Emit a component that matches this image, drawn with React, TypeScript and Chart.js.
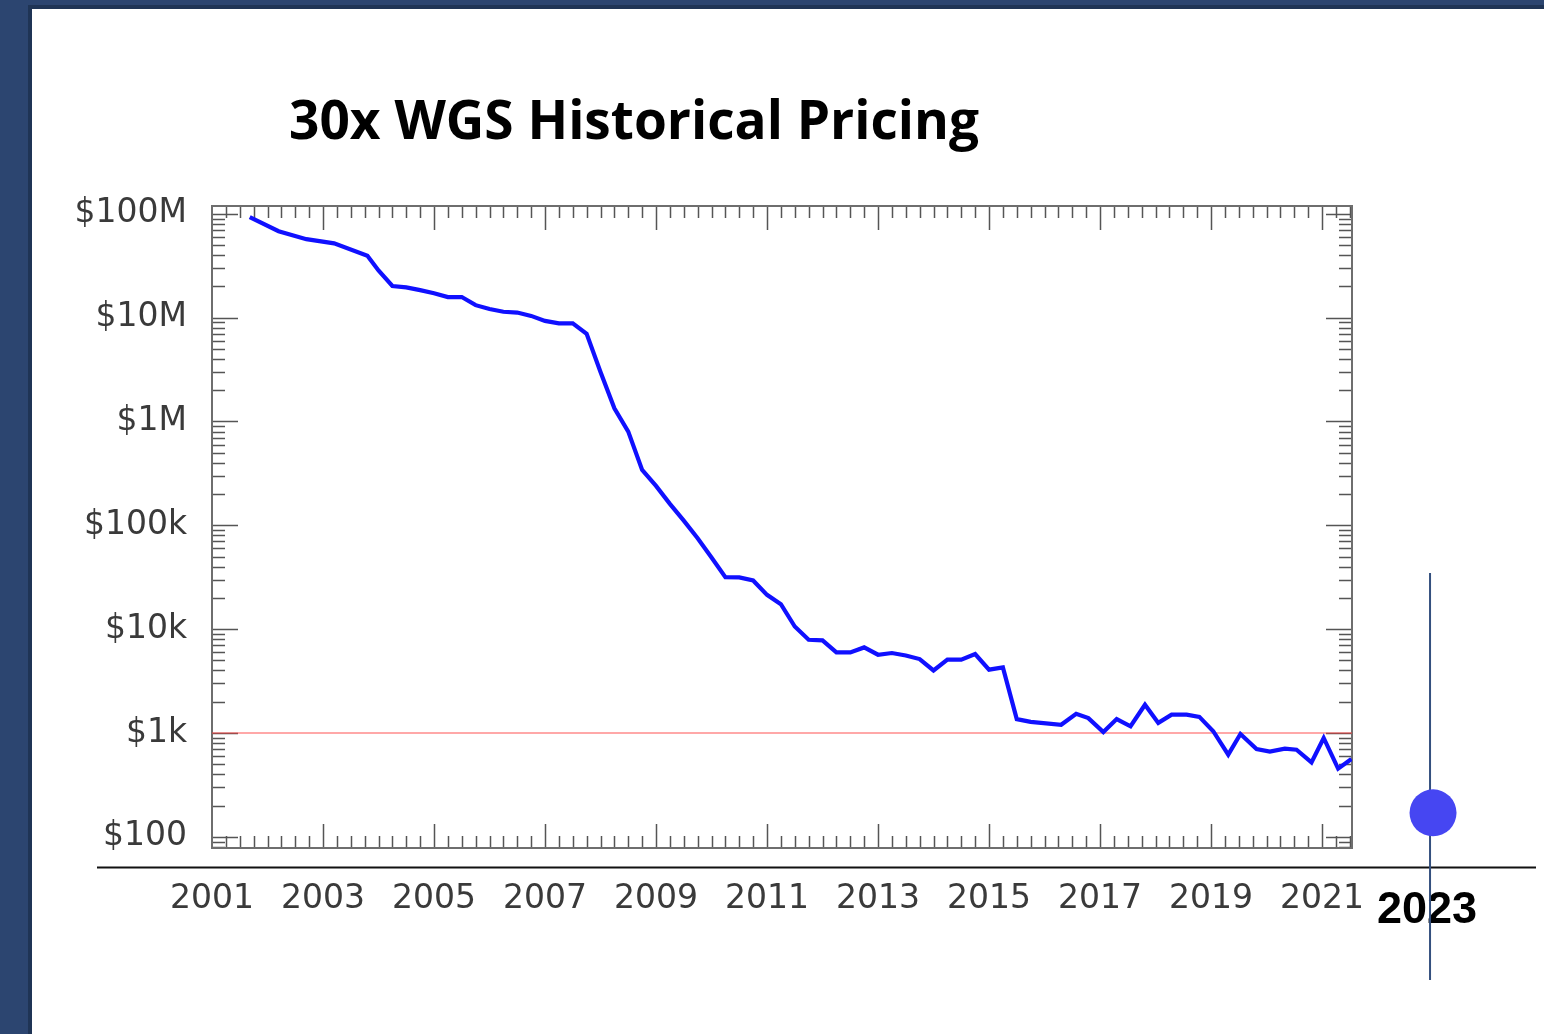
import { useEffect, useRef } from "react";
import { Chart, registerables } from "chart.js";

Chart.register(...registerables);

// ---- Data ----
const YEARS = [
  2001.68, 2002.2, 2002.7, 2003.2, 2003.8, 2004.0, 2004.25, 2004.5, 2004.75,
  2005.0, 2005.25, 2005.5, 2005.75, 2006.0, 2006.25, 2006.5, 2006.75,
  2007.0, 2007.25, 2007.5, 2007.75, 2008.0, 2008.25, 2008.5, 2008.75,
  2009.0, 2009.25, 2009.5, 2009.75, 2010.0, 2010.25, 2010.5, 2010.75,
  2011.0, 2011.25, 2011.5, 2011.75, 2012.0, 2012.25, 2012.5, 2012.75,
  2013.0, 2013.25, 2013.5, 2013.75, 2014.0, 2014.25, 2014.5, 2014.75,
  2015.0, 2015.25, 2015.5, 2015.75, 2016.3, 2016.57, 2016.79,
  2017.06, 2017.3, 2017.55, 2017.81, 2018.05, 2018.29, 2018.56, 2018.79,
  2019.04, 2019.31, 2019.53, 2019.82, 2020.06, 2020.33, 2020.54, 2020.81,
  2021.03, 2021.29, 2021.53,
];
const COSTS = [
  93000000, 68000000, 57000000, 52000000, 39500000, 28500000, 20200000, 19600000, 18400000,
  17200000, 15800000, 15800000, 13200000, 12100000, 11400000, 11200000, 10400000,
  9300000, 8800000, 8800000, 7000000, 3000000, 1340000, 800000, 342000,
  240000, 161000, 111000, 75000, 49000, 31700, 31500, 29400,
  21400, 17400, 10600, 7900, 7800, 5970, 5970, 6670,
  5670, 5890, 5580, 5150, 4000, 5080, 5080, 5750,
  4070, 4280, 1360, 1280, 1200, 1530, 1390,
  1020, 1360, 1160, 1870, 1250, 1500, 1500, 1430,
  1040, 618, 978, 701, 661, 706, 690, 521,
  895, 453, 562,
];
const THRESHOLD_COST = 1000;

const HIGHLIGHT_YEARS = [2023];
const HIGHLIGHT_COSTS = [170];
const HIGHLIGHT_LABEL = "2023";

const X_TICK_YEARS = [2001, 2003, 2005, 2007, 2009, 2011, 2013, 2015, 2017, 2019, 2021];
const Y_TICK_VALUES = [100, 1000, 10000, 100000, 1000000, 10000000, 100000000];
const Y_TICK_LABELS = ["$100", "$1k", "$10k", "$100k", "$1M", "$10M", "$100M"];

const X_MIN = 2001;
const X_MAX = 2021.54;
const Y_MIN = 78;
const Y_MAX = 1.19e8;

const TITLE = "30x WGS Historical Pricing";

const decorPlugin = {
  id: "decor",
  beforeDatasetsDraw(chart: any) {
    const { ctx, chartArea: a } = chart;
    const xs = chart.scales.x;
    const ys = chart.scales.y;
    ctx.save();

    // tick marks (inward, all four sides)
    ctx.strokeStyle = "#555555";
    ctx.lineWidth = 1.5;
    ctx.beginPath();
    for (let q = X_MIN + 0.25; q < X_MAX; q += 0.25) {
      const px = Math.round(xs.getPixelForValue(q)) + 0.5;
      const major = Math.abs((q - X_MIN) % 2) < 1e-6;
      const len = major ? 24 : 12;
      ctx.moveTo(px, a.bottom);
      ctx.lineTo(px, a.bottom - len);
      ctx.moveTo(px, a.top);
      ctx.lineTo(px, a.top + len);
    }
    for (let e = 1; e <= 8; e++) {
      for (let m = 1; m <= 9; m++) {
        const v = m * Math.pow(10, e);
        if (v <= Y_MIN || v >= Y_MAX) continue;
        const py = Math.round(ys.getPixelForValue(v)) + 0.5;
        const len = m === 1 ? 26 : 13;
        ctx.moveTo(a.left, py);
        ctx.lineTo(a.left + len, py);
        ctx.moveTo(a.right, py);
        ctx.lineTo(a.right - len, py);
      }
    }
    ctx.stroke();

    // frame
    ctx.strokeStyle = "#6e6e6e";
    ctx.lineWidth = 2;
    ctx.strokeRect(a.left, a.top, a.right - a.left, a.bottom - a.top);

    // slide annotation: baseline rule
    ctx.strokeStyle = "#111111";
    ctx.lineWidth = 2;
    ctx.beginPath();
    ctx.moveTo(97, 867.5);
    ctx.lineTo(1536, 867.5);
    ctx.stroke();

    // 2023 label
    const hx = xs.getPixelForValue(HIGHLIGHT_YEARS[0]);
    ctx.fillStyle = "#000000";
    ctx.font = 'bold 45px "Liberation Sans", Arial, sans-serif';
    ctx.textAlign = "center";
    ctx.textBaseline = "alphabetic";
    ctx.fillText(HIGHLIGHT_LABEL, hx - 6, 923);

    // vertical marker line
    ctx.strokeStyle = "#34507e";
    ctx.lineWidth = 2;
    ctx.beginPath();
    ctx.moveTo(hx - 3, 573);
    ctx.lineTo(hx - 3, 980);
    ctx.stroke();

    ctx.restore();
  },
  afterDatasetsDraw(chart: any) {
    const { ctx } = chart;
    const xs = chart.scales.x;
    const ys = chart.scales.y;
    ctx.save();
    ctx.fillStyle = "#4646f2";
    HIGHLIGHT_YEARS.forEach((yr, i) => {
      const px = xs.getPixelForValue(yr);
      const py = ys.getPixelForValue(HIGHLIGHT_COSTS[i]);
      ctx.beginPath();
      ctx.arc(px, py, 23.5, 0, Math.PI * 2);
      ctx.fill();
    });
    ctx.restore();
  },
};

export default function App() {
  const canvasRef = useRef<HTMLCanvasElement | null>(null);

  useEffect(() => {
    const canvas = canvasRef.current;
    if (!canvas) return;
    const chart = new Chart(canvas, {
      type: "line",
      data: {
        datasets: [
          {
            label: "Cost per genome",
            data: YEARS.map((yr, i) => ({ x: yr, y: COSTS[i] })),
            borderColor: "#1010ff",
            borderWidth: 4.2,
            pointRadius: 0,
            tension: 0,
            order: 1,
          },
          {
            label: "$1k",
            data: [
              { x: X_MIN, y: THRESHOLD_COST },
              { x: X_MAX, y: THRESHOLD_COST },
            ],
            borderColor: "rgba(255,60,60,0.6)",
            borderWidth: 1.6,
            pointRadius: 0,
            order: 2,
          },
        ],
      },
      options: {
        animation: false,
        responsive: false,
        devicePixelRatio: 1,
        events: [],
        layout: { padding: { left: 20, right: 192, top: 206, bottom: 126 } },
        plugins: {
          legend: { display: false },
          tooltip: { enabled: false },
          title: { display: false },
        },
        scales: {
          x: {
            type: "linear",
            min: X_MIN,
            max: X_MAX,
            grid: { display: false, drawTicks: false },
            border: { display: false },
            afterBuildTicks: (s: any) => {
              s.ticks = X_TICK_YEARS.map((v) => ({ value: v }));
            },
            afterFit: (s: any) => {
              s.height = 60;
            },
            ticks: {
              autoSkip: false,
              maxRotation: 0,
              minRotation: 0,
              padding: 32,
              color: "#3a3a3a",
              font: { family: '"DejaVu Sans", sans-serif', size: 33 },
              callback: (v: any) => String(v),
            },
          },
          y: {
            type: "logarithmic",
            min: Y_MIN,
            max: Y_MAX,
            grid: { display: false, drawTicks: false },
            border: { display: false },
            afterBuildTicks: (s: any) => {
              s.ticks = Y_TICK_VALUES.map((v) => ({ value: v }));
            },
            afterFit: (s: any) => {
              s.width = 192;
            },
            ticks: {
              autoSkip: false,
              padding: 25,
              color: "#3a3a3a",
              font: { family: '"DejaVu Sans", sans-serif', size: 33 },
              callback: (v: any) => {
                const i = Y_TICK_VALUES.indexOf(Number(v));
                return i >= 0 ? Y_TICK_LABELS[i] : "";
              },
            },
          },
        },
      },
      plugins: [decorPlugin],
    } as any);
    return () => chart.destroy();
  }, []);

  return (
    <div
      style={{
        position: "absolute",
        left: 0,
        top: 0,
        width: 1544,
        height: 1034,
        overflow: "hidden",
        background: "#2c4570",
      }}
    >
      <div
        style={{
          position: "absolute",
          left: 28,
          top: 5,
          right: 0,
          bottom: 0,
          background: "#ffffff",
          borderLeft: "4px solid #1f3455",
          borderTop: "4px solid #1f3455",
        }}
      />
      <div
        style={{
          position: "absolute",
          left: 289,
          top: 91,
          fontFamily: '"Open Sans", sans-serif',
          fontWeight: 700,
          fontSize: 53.2,
          lineHeight: "55px",
          color: "#000",
          whiteSpace: "nowrap",
        }}
      >
        {TITLE}
      </div>
      <canvas
        ref={canvasRef}
        width={1544}
        height={1034}
        style={{ position: "absolute", left: 0, top: 0, width: 1544, height: 1034 }}
      />
    </div>
  );
}
